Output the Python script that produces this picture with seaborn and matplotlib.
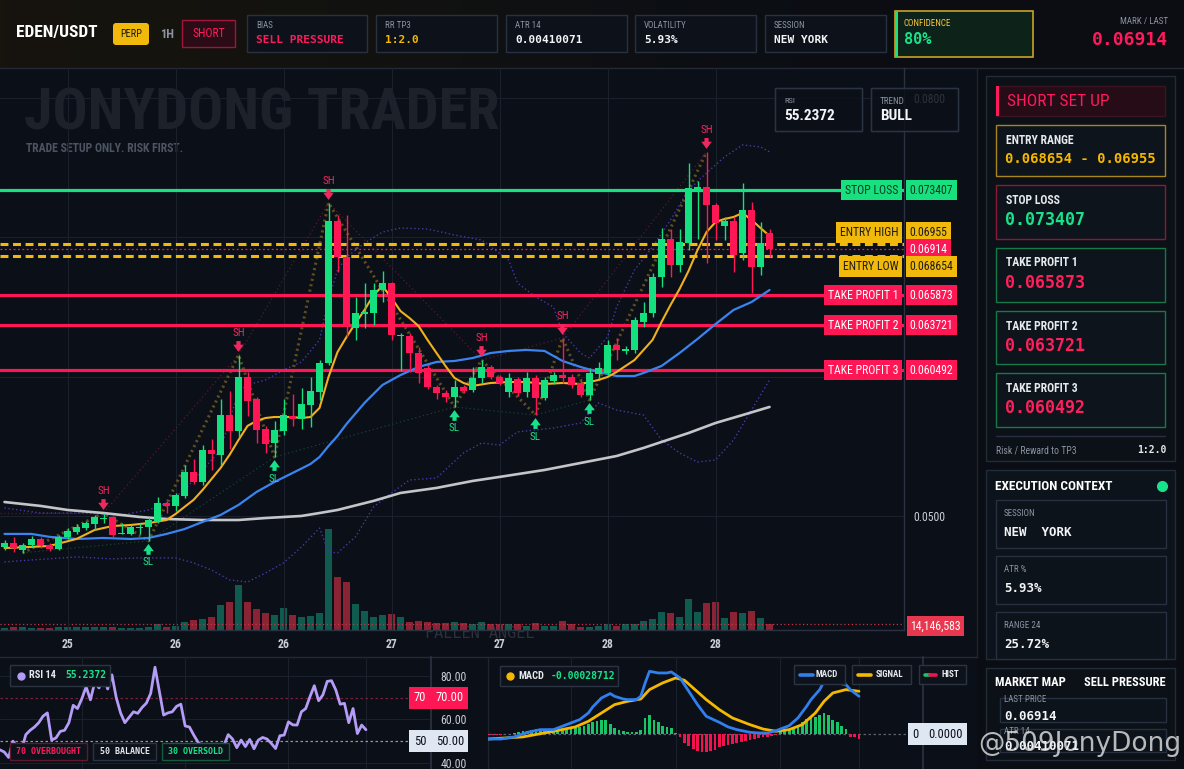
import matplotlib
matplotlib.use("Agg")
import matplotlib.pyplot as plt
import matplotlib.font_manager as fm
from matplotlib.patches import Rectangle, FancyBboxPatch
from matplotlib.colors import LinearSegmentedColormap
import numpy as np
import pandas as pd
import seaborn as sns

# ---------------- candles (1H) ----------------
opens = [0.04780, 0.04808, 0.04758, 0.04794, 0.04837, 0.04794, 0.04765, 0.04852, 0.04887, 0.04915,
         0.04944, 0.04980, 0.04995, 0.04873, 0.04873, 0.04915, 0.04923, 0.04959, 0.05095, 0.05074,
         0.05145, 0.05318, 0.05246, 0.05475, 0.05439, 0.05726, 0.05612, 0.05999, 0.05841, 0.05626,
         0.05525, 0.05612, 0.05719, 0.05698, 0.05798, 0.05892, 0.06099, 0.07119, 0.06860, 0.06350,
         0.06451, 0.06458, 0.06623, 0.06674, 0.06293, 0.06293, 0.06171, 0.06064, 0.05927, 0.05884,
         0.05855, 0.05927, 0.05906, 0.05992, 0.06071, 0.05999, 0.05892, 0.05985, 0.05892, 0.05992,
         0.05848, 0.05971, 0.06013, 0.05999, 0.05956, 0.05870, 0.06020, 0.06028, 0.06229, 0.06186,
         0.06193, 0.06394, 0.06458, 0.06717, 0.06989, 0.06803, 0.06960, 0.07348, 0.07362, 0.07233,
         0.07083, 0.07119, 0.06888, 0.07197, 0.06789, 0.07032]
highs = [0.04830, 0.04852, 0.04808, 0.04859, 0.04852, 0.04808, 0.04866, 0.04915, 0.04944, 0.04966,
         0.05009, 0.05023, 0.05002, 0.04951, 0.04937, 0.04951, 0.04995, 0.05138, 0.05110, 0.05167,
         0.05368, 0.05411, 0.05511, 0.05554, 0.05841, 0.05899, 0.06157, 0.06035, 0.05855, 0.05648,
         0.05684, 0.05841, 0.05877, 0.05920, 0.05999, 0.06121, 0.07248, 0.07162, 0.07162, 0.06573,
         0.06674, 0.06674, 0.06760, 0.06681, 0.06315, 0.06315, 0.06214, 0.06085, 0.05942, 0.05906,
         0.05978, 0.05942, 0.06071, 0.06121, 0.06085, 0.06013, 0.06028, 0.05999, 0.06035, 0.06013,
         0.05999, 0.06035, 0.06279, 0.06020, 0.05978, 0.06064, 0.06107, 0.06265, 0.06279, 0.06222,
         0.06430, 0.06537, 0.06745, 0.07068, 0.07061, 0.07061, 0.07534, 0.07405, 0.07614, 0.07248,
         0.07147, 0.07147, 0.07391, 0.07255, 0.07111, 0.07061]
lows = [0.04758, 0.04744, 0.04737, 0.04780, 0.04773, 0.04751, 0.04758, 0.04837, 0.04873, 0.04901,
        0.04901, 0.04951, 0.04852, 0.04870, 0.04866, 0.04873, 0.04823, 0.04951, 0.05023, 0.05038,
        0.05131, 0.05231, 0.05224, 0.05332, 0.05368, 0.05482, 0.05569, 0.05719, 0.05525, 0.05454,
        0.05425, 0.05583, 0.05648, 0.05626, 0.05640, 0.05834, 0.06085, 0.06753, 0.06286, 0.06265,
        0.06350, 0.06372, 0.06537, 0.06265, 0.06042, 0.06035, 0.05956, 0.05913, 0.05841, 0.05820,
        0.05784, 0.05884, 0.05892, 0.05956, 0.05985, 0.05942, 0.05855, 0.05863, 0.05855, 0.05726,
        0.05834, 0.05949, 0.05956, 0.05920, 0.05855, 0.05834, 0.05992, 0.06013, 0.06121, 0.06164,
        0.06171, 0.06358, 0.06430, 0.06645, 0.06717, 0.06753, 0.06910, 0.06989, 0.06817, 0.06982,
        0.06982, 0.06753, 0.06839, 0.06602, 0.06731, 0.06860]
closes = [0.04808, 0.04773, 0.04794, 0.04837, 0.04794, 0.04765, 0.04852, 0.04894, 0.04923, 0.04951,
          0.04995, 0.04987, 0.04866, 0.04880, 0.04923, 0.04923, 0.04973, 0.05095, 0.05074, 0.05152,
          0.05318, 0.05246, 0.05475, 0.05446, 0.05726, 0.05612, 0.05999, 0.05827, 0.05619, 0.05518,
          0.05619, 0.05726, 0.05698, 0.05805, 0.05899, 0.06099, 0.07119, 0.06860, 0.06372, 0.06458,
          0.06465, 0.06623, 0.06674, 0.06300, 0.06300, 0.06171, 0.06028, 0.05927, 0.05884, 0.05855,
          0.05927, 0.05899, 0.05992, 0.06071, 0.05999, 0.05956, 0.05992, 0.05884, 0.05992, 0.05848,
          0.05978, 0.06013, 0.05992, 0.05942, 0.05870, 0.06028, 0.06064, 0.06229, 0.06193, 0.06200,
          0.06408, 0.06458, 0.06717, 0.06989, 0.06803, 0.06968, 0.07355, 0.07362, 0.07233, 0.07104,
          0.07119, 0.06874, 0.07197, 0.06789, 0.06960, 0.06914]
volume_m = [5.5, 7.9, 6.3, 5.5, 5.5, 5.5, 7.9, 7.9, 7.9, 7.9,
            7.9, 6.3, 7.9, 5.5, 5.5, 5.5, 7.9, 14.1, 7.9, 10.2,
            19.7, 23.6, 25.9, 31.4, 59.7, 66.0, 106.1, 66.0, 49.5, 40.1,
            35.4, 51.9, 35.4, 30.7, 33.0, 40.1, 238.1, 125.0, 113.2, 61.3,
            44.8, 30.7, 35.4, 37.7, 30.7, 18.9, 21.2, 18.9, 16.5, 17.3,
            18.9, 17.3, 14.1, 18.9, 14.1, 14.1, 13.4, 13.4, 9.4, 17.3,
            9.4, 9.4, 21.2, 13.4, 7.1, 7.1, 10.2, 13.4, 10.2, 14.1,
            14.1, 21.2, 25.9, 42.4, 40.1, 30.7, 73.1, 42.4, 63.7, 66.0,
            28.3, 42.4, 40.1, 44.8, 28.3, 14.146583]
xtick_idx = [7, 19, 31, 43, 55, 67, 79]
xtick_labels = ["25", "26", "26", "27", "27", "28", "28"]
price_ticks = [0.05, 0.06, 0.07, 0.08]
# 0.0600 / 0.0700 sit under the level tags in the reference
price_tick_labels = ["0.0500", "", "", "0.0800"]

# ---------------- overlays on price ----------------
fast_idx = [0, 3, 5, 8, 10, 12, 14, 16, 18, 19, 20, 21, 22, 23, 24, 25, 26, 27, 28, 29,
            30, 32, 33, 34, 35, 36, 37, 38, 39, 40, 41, 42, 43, 44, 45, 46, 47, 48, 49, 50,
            51, 52, 54, 56, 58, 60, 62, 64, 65, 66, 67, 68, 69, 70, 71, 72, 73, 74, 75, 76,
            77, 78, 79, 80, 81, 82, 83, 84, 85]
fast_ma = [0.04772, 0.04780, 0.04787, 0.04837, 0.04901, 0.04930, 0.04937, 0.04951, 0.04973, 0.05016,
           0.05067, 0.05117, 0.05188, 0.05267, 0.05346, 0.05440, 0.05547, 0.05648, 0.05684, 0.05705,
           0.05712, 0.05712, 0.05705, 0.05712, 0.05777, 0.05999, 0.06178, 0.06286, 0.06386, 0.06480,
           0.06587, 0.06652, 0.06566, 0.06472, 0.06422, 0.06365, 0.06265, 0.06171, 0.06078, 0.05992,
           0.05956, 0.05935, 0.05956, 0.05963, 0.05963, 0.05949, 0.05956, 0.05949, 0.05963, 0.05978,
           0.05999, 0.06035, 0.06078, 0.06121, 0.06193, 0.06265, 0.06394, 0.06516, 0.06630, 0.06760,
           0.06910, 0.07039, 0.07111, 0.07133, 0.07147, 0.07176, 0.07126, 0.07068, 0.07011]
mid_idx = [0, 3, 5, 8, 11, 14, 16, 18, 20, 22, 24, 26, 28, 30, 32, 34, 35, 36, 37, 38,
           40, 42, 44, 46, 48, 50, 52, 54, 56, 58, 60, 62, 64, 66, 68, 70, 71, 73, 75, 77,
           79, 81, 83, 85]
mid_ma = [0.04873, 0.04873, 0.04852, 0.04837, 0.04844, 0.04837, 0.04844, 0.04873, 0.04908, 0.04959,
          0.05009, 0.05081, 0.05174, 0.05246, 0.05310, 0.05375, 0.05425, 0.05504, 0.05576, 0.05662,
          0.05813, 0.05942, 0.06013, 0.06071, 0.06107, 0.06114, 0.06135, 0.06171, 0.06186, 0.06193,
          0.06186, 0.06114, 0.06071, 0.06035, 0.06006, 0.06006, 0.06028, 0.06078, 0.06171, 0.06272,
          0.06379, 0.06480, 0.06537, 0.06623]
slow_idx = [0, 4, 7, 11, 15, 18, 22, 26, 29, 33, 35, 37, 41, 44, 48, 52, 55, 60, 64, 68,
            71, 73, 76, 79, 82, 85]
slow_ma = [0.05102, 0.05074, 0.05045, 0.05023, 0.04995, 0.04980, 0.04973, 0.04973, 0.04987, 0.05002,
           0.05023, 0.05045, 0.05110, 0.05167, 0.05203, 0.05253, 0.05282, 0.05332, 0.05382, 0.05432,
           0.05490, 0.05533, 0.05597, 0.05669, 0.05726, 0.05784]
bb_up_idx = [0, 4, 9, 13, 16, 18, 20, 22, 24, 25, 26, 27, 29, 31, 33, 35, 36, 37, 38, 40,
             42, 44, 47, 50, 53, 56, 57, 59, 61, 62, 64, 65, 67, 68, 70, 72, 74, 76, 78, 80,
             82, 84, 85]
bb_upper = [0.05059, 0.05023, 0.05023, 0.05009, 0.05045, 0.05095, 0.05188, 0.05332, 0.05475, 0.05691,
            0.05892, 0.05942, 0.05978, 0.06049, 0.06107, 0.06265, 0.06552, 0.06767, 0.06860, 0.06960,
            0.07039, 0.07068, 0.07061, 0.07018, 0.06982, 0.06839, 0.06674, 0.06573, 0.06501, 0.06315,
            0.06171, 0.06135, 0.06286, 0.06501, 0.06767, 0.06932, 0.07126, 0.07341, 0.07463, 0.07578,
            0.07664, 0.07650, 0.07614]
bb_lo_idx = [0, 3, 8, 12, 15, 19, 21, 23, 25, 27, 29, 31, 33, 35, 36, 37, 39, 41, 43, 45,
             48, 51, 53, 55, 57, 61, 64, 66, 68, 71, 73, 75, 77, 79, 81, 83, 85]
bb_lower = [0.04672, 0.04686, 0.04708, 0.04694, 0.04701, 0.04701, 0.04665, 0.04614, 0.04543, 0.04528,
            0.04593, 0.04665, 0.04780, 0.04915, 0.04744, 0.04737, 0.04852, 0.05067, 0.05167, 0.05260,
            0.05274, 0.05454, 0.05525, 0.05511, 0.05605, 0.05633, 0.05669, 0.05813, 0.05762, 0.05726,
            0.05547, 0.05454, 0.05389, 0.05404, 0.05547, 0.05762, 0.05978]
swing_high_idx = [11, 26, 36, 53, 62, 78]
swing_low_idx = [2, 16, 30, 50, 59, 65]

# trade plan levels
STOP_LOSS = 0.073407
ENTRY_HIGH = 0.06955
ENTRY_LOW = 0.068654
LAST = 0.06914
TP1, TP2, TP3 = 0.065873, 0.063721, 0.060492

# ---------------- oscillators ----------------
rsi = [46, 45, 42.5, 50, 47.5, 46, 53, 55, 56.5, 58.5,
       61.5, 63, 50.5, 51.5, 54.5, 55, 58.5, 66.5, 65, 69.5,
       75, 69, 77, 74.5, 80.5, 74, 80.5, 70, 63, 58.5,
       61, 63.5, 62.8, 65.5, 67.5, 72, 84, 73, 62, 63,
       63.5, 66, 67, 57, 56.5, 52.8, 49.5, 47.8, 47, 47.5,
       48.3, 48.5, 48, 53, 51, 47, 50.5, 47.5, 50.8, 46.5,
       50.5, 51.7, 51, 49, 46.6, 52.5, 52.8, 58.9, 57.5, 57.4,
       63.5, 65, 70.5, 75.5, 68.6, 71.3, 77.5, 77.8, 73.5, 67,
       67.4, 58.5, 65, 53.5, 57.4, 55.2372]
macd_idx = [0, 3, 6, 9, 12, 15, 18, 21, 23, 24, 26, 28, 29, 31, 32, 34, 35, 36, 37, 39,
            41, 42, 44, 46, 48, 50, 53, 55, 57, 60, 62, 64, 66, 69, 71, 73, 74, 76, 77, 79,
            80, 82, 83, 85]
macd = [-0.00024, -0.00024, -0.00014, 0.00008, 0.00021, 0.00021, 0.00045, 0.00069, 0.00101, 0.00130,
        0.00173, 0.00194, 0.00181, 0.00168, 0.00165, 0.00165, 0.00181, 0.00245, 0.00301, 0.00293,
        0.00293, 0.00298, 0.00269, 0.00205, 0.00141, 0.00085, 0.00056, 0.00034, 0.00021, 0.00008,
        0.00005, 0.00005, 0.00016, 0.00040, 0.00077, 0.00133, 0.00165, 0.00213, 0.00253, 0.00258,
        0.00245, 0.00237, 0.00213, 0.00181]
signal_idx = [0, 8, 15, 20, 23, 26, 29, 32, 35, 37, 40, 43, 45, 47, 50, 53, 56, 60, 63, 66,
              69, 72, 75, 77, 79, 82, 85]
signal = [-0.00024, -0.00014, 0.00013, 0.00034, 0.00061, 0.00101, 0.00141, 0.00157, 0.00168, 0.00213,
          0.00245, 0.00269, 0.00258, 0.00221, 0.00165, 0.00117, 0.00077, 0.00045, 0.00024, 0.00013,
          0.00021, 0.00045, 0.00101, 0.00157, 0.00197, 0.00213, 0.00205]
hist = [-0.000048, -0.000048, -0.000048, -0.000032, 0.000016, 0.000016, 0.000048, 0.000096, 0.000128, 0.00016,
        0.000192, 0.000224, 0.000224, 0.000192, 0.00016, 0.00016, 0.000192, 0.00024, 0.000224, 0.000288,
        0.000288, 0.000336, 0.0004, 0.000496, 0.00056, 0.000608, 0.000688, 0.000656, 0.000496, 0.000288,
        0.000208, 0.00016, 0.000112, 0.000112, 0.000112, 0.000208, 0.000768, 0.000928, 0.000688, 0.00056,
        0.000368, 0.000336, 0.000288, 0.000064, -0.00016, -0.000448, -0.00056, -0.00072, -0.0008, -0.00088,
        -0.00088, -0.000832, -0.000768, -0.00064, -0.00056, -0.000512, -0.00048, -0.000448, -0.0004, -0.000352,
        -0.000288, -0.00024, -0.000192, -0.00016, -0.000128, -0.000096, -0.000048, 0.00008, 0.000128, 0.000192,
        0.000288, 0.0004, 0.00056, 0.00072, 0.0008, 0.000832, 0.000928, 0.000992, 0.000928, 0.000672,
        0.00056, 0.0004, 0.000224, -0.000128, -0.00016, -0.000224]
osc_grid = [19, 43, 67, 85]

# ---------------- style ----------------
W, H = 1184, 769
BG = "#0b0f17"
GREEN = "#14e07f"
RED = "#ff1654"
YELLOW = "#f0b90b"
GREY = "#8b93a1"
TXT = "#c9ced6"
EDGE = "#2a3140"

sns.set_theme(style="dark", rc={"axes.facecolor": BG, "figure.facecolor": BG,
                                "axes.edgecolor": EDGE, "grid.color": "#1a212d",
                                "patch.edgecolor": "none", "patch.linewidth": 0,
                                "text.color": TXT, "xtick.color": TXT, "ytick.color": TXT})
names = {f.name for f in fm.fontManager.ttflist}
NARROW = next((n for n in ["Liberation Sans Narrow", "Roboto Condensed", "Roboto", "DejaVu Sans"]
               if n in names), "DejaVu Sans")
MONO = "DejaVu Sans Mono"
plt.rcParams["font.family"] = [NARROW, "DejaVu Sans"]

df = pd.DataFrame({"o": opens, "h": highs, "l": lows, "c": closes, "v": volume_m})
df["i"] = np.arange(len(df))
up = df["c"] >= df["o"]


def rect(x0, y0, x1, y1):
    return [x0 / W, 1 - y1 / H, (x1 - x0) / W, (y1 - y0) / H]


fig = plt.figure(figsize=(W / 100, H / 100), dpi=100)
fig.patch.set_facecolor(BG)

# background layer (pixel coords)
bg = fig.add_axes([0, 0, 1, 1], zorder=0)
bg.set_xlim(0, W)
bg.set_ylim(H, 0)
bg.axis("off")
head_cmap = LinearSegmentedColormap.from_list("head", ["#17140e", "#111210", "#0b0e14", "#0b0d13"])
bg.imshow(np.linspace(0, 1, 256)[None, :], extent=(0, W, 68, 0), aspect="auto", cmap=head_cmap, zorder=0)
bg.add_patch(Rectangle((977, 68), W - 977, H - 68, fc="#0a0d13", ec="none", zorder=1))
bg.plot([0, W], [67.5, 67.5], color="#232a35", lw=1, zorder=2)
bg.plot([977, 977], [68, 657], color="#1e2530", lw=1, zorder=2)
bg.plot([0, 977], [657, 657], color="#232a36", lw=1, zorder=2)
bg.plot([488, 488], [657, H], color="#1e2530", lw=1, zorder=2)
bg.text(24, 114, "JONYDONG TRADER", fontsize=42, color="#1d222a", fontweight="bold",
        family=NARROW, va="center", zorder=2)
bg.text(26, 149, "TRADE SETUP ONLY. RISK FIRST.", fontsize=8.5, color="#4d5461",
        fontweight="bold", family=NARROW, va="center", zorder=2)
bg.text(425, 633, "FALLEN ANGEL", fontsize=11, color="#2c3139", family=MONO, va="center", zorder=2)

# ---------------- volume ----------------
main_rect = rect(0, 68, 904, 630)
axv = fig.add_axes(main_rect, zorder=1)
axv.patch.set_visible(False)
axv.bar(df["i"], df["v"], width=0.86, color=np.where(up, "#0f5b4f", "#8a2435"),
        edgecolor="none", linewidth=0, zorder=1)
axv.set_ylim(0, 1325)
axv.set_xlim(-0.5, 99.94)
axv.axhline(volume_m[-1], color="#c8324a", lw=0.9, ls=(0, (1, 2)), zorder=2)
axv.annotate("14,146,583", xy=(1, volume_m[-1]), xycoords=axv.get_yaxis_transform(),
             xytext=(4.5, -1.5), textcoords="offset points", ha="left", va="center",
             fontsize=8.5, color="white",
             bbox=dict(boxstyle="square,pad=0.3", fc="#e8384f", ec="none"), annotation_clip=False)
axv.axis("off")

# ---------------- price ----------------
ax = fig.add_axes(main_rect, zorder=2, sharex=axv)
ax.patch.set_visible(False)
ax.set_ylim(0.041837, 0.082161)
ax.set_xlim(-0.5, 99.94)

for lvl in (TP1, TP2, TP3):
    ax.axhline(lvl, color=RED, lw=2.3, zorder=3)
ax.axhline(STOP_LOSS, color="#19e07f", lw=2.3, zorder=3)
ax.axhline(ENTRY_HIGH, color=YELLOW, lw=2.2, ls=(0, (2.6, 1.5)), zorder=3)
ax.axhline(ENTRY_LOW, color=YELLOW, lw=2.2, ls=(0, (2.6, 1.5)), zorder=3)
ax.axhline(LAST, color=RED, lw=0.9, ls=(0, (1.5, 2)), zorder=3)
ax.hlines(highs[11], -0.5, 11, color="#5b1830", lw=0.9, ls=(0, (1, 2)), zorder=2)

# trend / zigzag dotted guides
sns.lineplot(x=swing_high_idx, y=[highs[i] for i in swing_high_idx], ax=ax, color="#5b1830",
             lw=0.9, ls=(0, (1, 2.2)), zorder=2)
sns.lineplot(x=swing_low_idx, y=[lows[i] for i in swing_low_idx], ax=ax, color="#174230",
             lw=0.9, ls=(0, (1, 2.2)), zorder=2)
zz = sorted([(i, highs[i]) for i in swing_high_idx] + [(i, lows[i]) for i in swing_low_idx])
ax.plot([p[0] for p in zz], [p[1] for p in zz], color="#5e4d1f", lw=2.2, ls=(0, (0.7, 1.1)), zorder=2)

sns.lineplot(x=bb_up_idx, y=bb_upper, ax=ax, color="#4a38a6", lw=1.0, ls=(0, (1, 1.8)), zorder=2.5)
sns.lineplot(x=bb_lo_idx, y=bb_lower, ax=ax, color="#4a38a6", lw=1.0, ls=(0, (1, 1.8)), zorder=2.5)
sns.lineplot(x=slow_idx, y=slow_ma, ax=ax, color="#c3c5c9", lw=1.9, zorder=3.2)
sns.lineplot(x=mid_idx, y=mid_ma, ax=ax, color="#3a84f0", lw=1.6, zorder=3.3)
sns.lineplot(x=fast_idx, y=fast_ma, ax=ax, color="#f2b01e", lw=1.5, zorder=3.4)

cols = np.where(up, GREEN, RED)
ax.vlines(df["i"], df["l"], df["h"], colors=cols, lw=1.0, zorder=4)
ax.bar(df["i"], np.maximum((df["c"] - df["o"]).abs(), 0.0001), bottom=np.minimum(df["o"], df["c"]),
       width=0.72, color=cols, edgecolor="none", linewidth=0, zorder=5)

SH_COL, SL_COL = "#f0285f", "#19e08a"
arrow_style = "simple,head_length=0.65,head_width=0.95,tail_width=0.38"
for i in swing_high_idx:
    ax.annotate("", xy=(i, highs[i]), xytext=(0, 10), textcoords="offset points", zorder=7,
                arrowprops=dict(arrowstyle=arrow_style, color=SH_COL, shrinkA=0, shrinkB=2.2,
                                mutation_scale=8))
    ax.annotate("SH", xy=(i, highs[i]), xytext=(0, 15.5), textcoords="offset points",
                ha="center", va="center", fontsize=8, color=SH_COL, zorder=7)
for i in swing_low_idx[1:]:
    ax.annotate("", xy=(i, lows[i]), xytext=(0, -10), textcoords="offset points", zorder=7,
                arrowprops=dict(arrowstyle=arrow_style, color=SL_COL, shrinkA=0, shrinkB=2.2,
                                mutation_scale=8))
    ax.annotate("SL", xy=(i, lows[i]), xytext=(0, -15.5), textcoords="offset points",
                ha="center", va="center", fontsize=8, color=SL_COL, zorder=7)


def level_tag(y, name, value, face, fg, dy_px=0):
    dy = dy_px * 0.72
    if name:
        ax.annotate(name, xy=(1, y), xycoords=ax.get_yaxis_transform(), xytext=(-4, dy),
                    textcoords="offset points", ha="right", va="center", fontsize=8.5, color=fg,
                    bbox=dict(boxstyle="square,pad=0.32", fc=face, ec="none"),
                    annotation_clip=False, zorder=8)
    ax.annotate(value, xy=(1, y), xycoords=ax.get_yaxis_transform(), xytext=(4, dy),
                textcoords="offset points", ha="left", va="center", fontsize=8.5, color=fg,
                bbox=dict(boxstyle="square,pad=0.32", fc=face, ec="none"),
                annotation_clip=False, zorder=8)


level_tag(STOP_LOSS, "STOP LOSS", "0.073407", "#19e07f", "#0a3a20")
level_tag(ENTRY_HIGH, "ENTRY HIGH", "0.06955", YELLOW, "#1b1b1b", dy_px=11)
level_tag(LAST, None, "0.06914", RED, "white")
level_tag(ENTRY_LOW, "ENTRY LOW", "0.068654", YELLOW, "#1b1b1b", dy_px=-10)
level_tag(TP1, "TAKE PROFIT 1", "0.065873", RED, "white")
level_tag(TP2, "TAKE PROFIT 2", "0.063721", RED, "white")
level_tag(TP3, "TAKE PROFIT 3", "0.060492", RED, "white")

ax.set_xticks(xtick_idx)
ax.set_xticklabels(xtick_labels)
ax.set_yticks(price_ticks)
ax.set_yticklabels(price_tick_labels)
ax.yaxis.tick_right()
ax.tick_params(axis="both", length=0, labelcolor=TXT, labelsize=8.5)
ax.tick_params(axis="y", pad=7)
ax.tick_params(axis="x", pad=6)
for t in ax.get_xticklabels():
    t.set_fontweight("bold")
ax.grid(True, color="#1a212d", lw=0.8)
ax.set_axisbelow(True)
ax.set_xlabel("")
ax.set_ylabel("")
for s in ("top", "left"):
    ax.spines[s].set_visible(False)
for s in ("right", "bottom"):
    ax.spines[s].set_color(EDGE)
    ax.spines[s].set_linewidth(1)

# ---------------- RSI ----------------
axr = fig.add_axes(rect(0, 657, 431, H), zorder=2)
axr.patch.set_visible(False)
axr.axhline(70, color="#7a1f3a", lw=0.9, ls=(0, (2, 2)))
axr.axhline(50, color="#8f98a6", lw=0.9, ls=(0, (2, 2)))
sns.lineplot(x=df["i"], y=rsi, ax=axr, color="#b49cf7", lw=2.0, zorder=3)
axr.set_xlim(0, 100.1)
axr.set_ylim(37.2, 88.7)
axr.set_xticks(osc_grid)
axr.set_xticklabels([])
axr.set_yticks([40, 60, 80])
axr.set_yticklabels(["40.00", "60.00", "80.00"])
axr.yaxis.tick_right()
axr.tick_params(axis="both", length=0, labelcolor=TXT, labelsize=8.5)
axr.tick_params(axis="y", pad=7)
axr.grid(True, color="#1a212d", lw=0.8)
axr.set_axisbelow(True)
axr.set_xlabel("")
axr.set_ylabel("")
for s in ("top", "left", "bottom"):
    axr.spines[s].set_visible(False)
axr.spines["right"].set_color(EDGE)
for lvl, face, fg in ((70, "#ff1654", "white"), (50, "#dfe7f3", "#0b0f17")):
    for txt_, off, ha in ((str(lvl), -3.5, "right"), (f"{lvl:.2f}", 3.5, "left")):
        axr.annotate(txt_, xy=(1, lvl), xycoords=axr.get_yaxis_transform(), xytext=(off, 0),
                     textcoords="offset points", ha=ha, va="center", fontsize=9, color=fg,
                     bbox=dict(boxstyle="square,pad=0.35", fc=face, ec="none"),
                     annotation_clip=False, zorder=8)

# ---------------- MACD ----------------
axm = fig.add_axes(rect(488, 657, 923, H), zorder=2)
axm.patch.set_visible(False)
axm.axhline(0, color="#5a6270", lw=0.9, ls=(0, (2, 2)))
axm.bar(df["i"], hist, width=0.62, color=np.where(np.array(hist) >= 0, "#18c566", "#f0134f"),
        edgecolor="none", linewidth=0, zorder=2)
sns.lineplot(x=signal_idx, y=signal, ax=axm, color="#f5b800", lw=2.0, zorder=3)
sns.lineplot(x=macd_idx, y=macd, ax=axm, color="#2f80ee", lw=2.0, zorder=3.1)
axm.set_xlim(0, 99.66)
axm.set_ylim(-0.00168, 0.003696)
axm.set_xticks(osc_grid)
axm.set_xticklabels([])
axm.set_yticks([])
axm.tick_params(axis="both", length=0)
axm.grid(True, axis="x", color="#1a212d", lw=0.8)
axm.set_axisbelow(True)
axm.set_xlabel("")
axm.set_ylabel("")
for s in ("top", "left", "bottom"):
    axm.spines[s].set_visible(False)
axm.spines["right"].set_color(EDGE)
for txt_, off, ha in (("0", -3.5, "right"), ("0.0000", 3.5, "left")):
    axm.annotate(txt_, xy=(1, 0), xycoords=axm.get_yaxis_transform(), xytext=(off, 0),
                 textcoords="offset points", ha=ha, va="center", fontsize=9, color="#0b0f17",
                 bbox=dict(boxstyle="square,pad=0.35", fc="#dfe7f3", ec="none"),
                 annotation_clip=False, zorder=8)

# ---------------- UI overlay (pixel coords) ----------------
ui = fig.add_axes([0, 0, 1, 1], zorder=10)
ui.set_xlim(0, W)
ui.set_ylim(H, 0)
ui.axis("off")
ui.patch.set_visible(False)


def box(x0, y0, x1, y1, fc="#0e131c", ec="#2a3342", lw=1, alpha=1.0, z=1):
    ui.add_patch(Rectangle((x0, y0), x1 - x0, y1 - y0, fc=fc, ec=ec, lw=lw, alpha=alpha, zorder=z))


def txt(x, y, s, size, color, font=None, weight="bold", ha="left", va="center", **kw):
    ui.text(x, y, s, fontsize=size, color=color, family=font or NARROW, fontweight=weight,
            ha=ha, va=va, zorder=5, **kw)


# header
txt(16, 33, "EDEN/USDT", 12.5, "white")
ui.add_patch(FancyBboxPatch((113, 23), 36, 22, boxstyle="round,pad=0,rounding_size=3",
                            fc=YELLOW, ec="none", zorder=2))
txt(131, 34, "PERP", 7.5, "#1a1a1a", ha="center", weight="normal")
txt(160, 34, "1H", 9, GREY)
box(182, 20, 235, 47, fc="#2a0c16", ec="#a3143d")
txt(208.5, 33.5, "SHORT", 8.5, "#ff1a5c", ha="center", weight="normal")
cards = [(247, 367, "BIAS", "SELL PRESSURE", "#ff1a5c"),
         (376, 497, "RR TP3", "1:2.0", "#f5b800"),
         (506, 627, "ATR 14", "0.00410071", "#f2f4f7"),
         (635, 756, "VOLATILITY", "5.93%", "#f2f4f7"),
         (765, 886, "SESSION", "NEW YORK", "#f2f4f7")]
for x0, x1, lab, val, col in cards:
    box(x0, 15, x1, 52, fc="#0d121a", ec="#283140")
    txt(x0 + 9, 25, lab, 6.5, GREY, weight="normal")
    txt(x0 + 9, 40, val, 8, col, font=MONO)
box(895, 11, 1033, 57, fc="#0d2219", ec="#c9a227", lw=1.2)
box(895, 11, 898, 57, fc="#19e07f", ec="none", z=2)
txt(904, 23, "CONFIDENCE", 6.5, "#f5c542", weight="normal")
txt(904, 40, "80%", 11, "#19e38a", font=MONO)
txt(1168, 22, "MARK / LAST", 6.5, GREY, ha="right", weight="normal")
txt(1168, 40, "0.06914", 13, "#ff1a5c", font=MONO, ha="right")

# chart badges
box(775, 88, 862, 131, fc=BG, ec="#2a3342", alpha=0.82)
box(775, 88, 862, 131, fc="none", ec="#2a3342")
txt(784, 101, "RSI", 6, GREY, weight="normal")
txt(784, 116, "55.2372", 11, "#f2f4f7")
box(871, 88, 958, 131, fc=BG, ec="#2a3342", alpha=0.82)
box(871, 88, 958, 131, fc="none", ec="#2a3342")
txt(880, 101, "TREND", 6.5, GREY, weight="normal")
txt(880, 116, "BULL", 11, "#f2f4f7")

# right panel: short setup
box(986, 76, 1175, 461, fc="#0c1118", ec="#222b38")
box(996, 86, 1165, 116, fc="#260c16", ec="#3a1420")
box(996, 86, 999, 116, fc="#ff1a5c", ec="none", z=2)
txt(1007, 101, "SHORT SET UP", 12.5, "#ff1a5c", weight="normal")
setup = [(125, 176, "#a8861c", "ENTRY RANGE", "0.068654 - 0.06955", "#f5b800", 10),
         (185, 239, "#8a1836", "STOP LOSS", "0.073407", "#19e38a", 12),
         (248, 302, "#137a48", "TAKE PROFIT 1", "0.065873", "#ff1f5a", 12),
         (311, 364, "#137a48", "TAKE PROFIT 2", "0.063721", "#ff1f5a", 12),
         (373, 427, "#137a48", "TAKE PROFIT 3", "0.060492", "#ff1f5a", 12)]
for y0, y1, ec, lab, val, col, sz in setup:
    box(996, y0, 1165, y1, fc="#0e141c", ec=ec)
    txt(1006, y0 + 15, lab, 8.5, "#e6e9ee")
    txt(1005, y0 + 35 if sz > 10 else y0 + 34, val, sz, col, font=MONO)
ui.plot([996, 1165], [436, 436], color="#263040", lw=1, zorder=2)
txt(996, 450, "Risk / Reward to TP3", 7, GREY, weight="normal")
txt(1166, 450, "1:2.0", 7, "#e6e9ee", font=MONO, ha="right")

# execution context
box(986, 470, 1175, 659, fc="#0c131a", ec="#222b38")
txt(995, 486, "EXECUTION CONTEXT", 9.5, "white")
ui.plot([1162], [486], "o", ms=7, color="#19e38a", zorder=5)
for y0, lab, val in ((500, "SESSION", "NEW  YORK"), (556, "ATR %", "5.93%"), (612, "RANGE 24", "25.72%")):
    box(996, y0, 1166, min(y0 + 48, 659), fc="#0d131b", ec="#263040")
    txt(1004, y0 + 13, lab, 6.5, GREY, weight="normal")
    txt(1004, y0 + 32, val, 9, "#f2f4f7", font=MONO)

# market map
box(986, 668, 1175, 760, fc="#0c1118", ec="#222b38")
txt(995, 683, "MARKET MAP", 9, "white")
txt(1166, 683, "SELL PRESSURE", 9, "white", ha="right")
box(1000, 698, 1166, 722, fc="#0d131b", ec="#263040")
txt(1004, 699, "LAST PRICE", 6.5, GREY, weight="normal")
txt(1004, 716, "0.06914", 9, "#f2f4f7", font=MONO)
box(1000, 729, 1166, 752, fc="#0d131b", ec="#263040")
txt(1004, 731, "ATR 14", 6.5, GREY, weight="normal")
txt(1004, 747, "0.00410071", 9, "#f2f4f7", font=MONO)
ui.text(1080, 744, "@509JonyDong", fontsize=19, color="#e9e9e9", alpha=0.78, family="DejaVu Sans",
        ha="center", va="center", zorder=6)

# RSI legends
box(10, 665, 110, 686, fc="#0e131b", ec="#2a3342")
ui.plot([21], [675.5], "o", ms=5, color="#b49cf7", zorder=5)
txt(29, 675.5, "RSI 14", 7.5, "#e6e9ee")
txt(65, 675.5, "55.2372", 7, "#19e38a", font=MONO)
for x0, x1, lab, col, ec in ((10, 87, "70 OVERBOUGHT", "#ff1a5c", "#5c1a2b"),
                             (93, 156, "50 BALANCE", "#e6e9ee", "#2a3342"),
                             (162, 229, "30 OVERSOLD", "#19e38a", "#135c3a")):
    box(x0, 743, x1, 760, fc="#0d1119", ec=ec)
    txt((x0 + x1) / 2, 751.5, lab, 6, col, font=MONO, ha="center")

# MACD legends
box(500, 666, 618, 686, fc="#0e131b", ec="#2a3342")
ui.plot([510], [676], "o", ms=5, color="#f5b800", zorder=5)
txt(518, 676, "MACD", 7.5, "#e6e9ee")
txt(551, 676, "-0.00028712", 7, "#19e38a", font=MONO)
for x0, x1, lab in ((794, 845, "MACD"), (852, 911, "SIGNAL"), (919, 966, "HIST")):
    box(x0, 665, x1, 684, fc="#0e131b", ec="#2a3342")
    txt(x0 + 22 if lab != "SIGNAL" else x0 + 24, 674.5, lab, 6.5, "#e6e9ee")
ui.plot([800, 813], [674.5, 674.5], color="#2f80ee", lw=2.6, solid_capstyle="round", zorder=5)
ui.plot([858, 871], [674.5, 674.5], color="#f5b800", lw=2.6, solid_capstyle="round", zorder=5)
ui.plot([925, 930], [674.5, 674.5], color="#18c566", lw=2.6, zorder=5)
ui.plot([930, 936], [674.5, 674.5], color="#f0134f", lw=2.6, zorder=5)

fig.savefig("out.png", dpi=100, facecolor=BG)
